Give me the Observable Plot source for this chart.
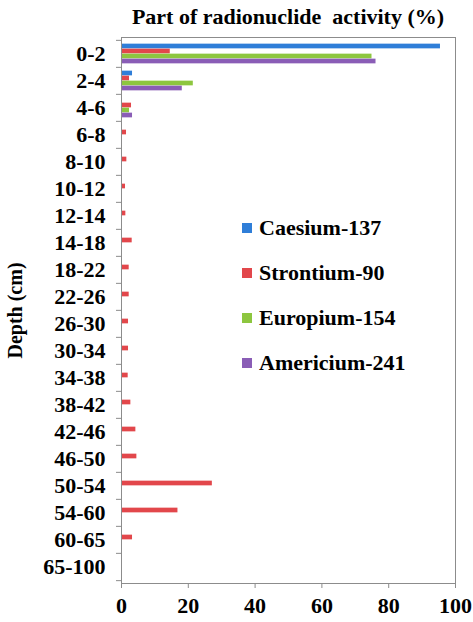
<!DOCTYPE html>
<html>
<head>
<meta charset="utf-8">
<script src="https://cdn.jsdelivr.net/npm/d3@7"></script>
<script src="https://cdn.jsdelivr.net/npm/@observablehq/plot@0.6"></script>
<style>
  body { margin: 0; background: #fff; }
  #wrap { position: relative; width: 473px; height: 622px; overflow: hidden; font-family: "Liberation Serif", "DejaVu Serif", serif; }
  #title { height: 30px; line-height: 34px; padding-left: 121px; width: 334px; text-align: center;
           font-family: "Liberation Serif", "DejaVu Serif", serif;
           font-weight: bold; font-size: 22px; white-space: pre; color: #000; }
  #legend { position: absolute; left: 242px; top: 215px; }
  .item { display: flex; align-items: center; height: 26px; margin-bottom: 19px;
          font-family: "Liberation Serif", "DejaVu Serif", serif; font-weight: bold; font-size: 22px; color: #000; }
  .sw { width: 10px; height: 10px; margin-right: 7px; }
  svg text { font-family: "Liberation Serif", "DejaVu Serif", serif; font-weight: bold; fill: #000; }
</style>
</head>
<body>
<div id="wrap">
  <div id="title">Part of radionuclide  activity (%)</div>
  <div id="chart"></div>
  <div id="legend"></div>
</div>
<script>
const depths = ["0-2","2-4","4-6","6-8","8-10","10-12","12-14","14-18","18-22","22-26","26-30","30-34","34-38","38-42","42-46","46-50","50-54","54-60","60-65","65-100"];
const isotopes = ["Caesium-137","Strontium-90","Europium-154","Americium-241"];
const caesium   = [95.5, 3.3, 0.3, 0, 0, 0, 0, 0, 0, 0, 0, 0, 0, 0, 0, 0, 0, 0, 0, 0];
const strontium = [14.6, 2.4, 3.0, 1.5, 1.6, 1.2, 1.3, 3.2, 2.3, 2.3, 2.1, 2.1, 2.0, 2.8, 4.3, 4.6, 27.2, 16.9, 3.3, 0];
const europium  = [75.0, 21.5, 2.4, 0, 0, 0, 0, 0, 0, 0, 0, 0, 0, 0, 0, 0, 0, 0, 0, 0];
const americium = [76.2, 18.2, 3.3, 0.3, 0.2, 0, 0.2, 0, 0, 0, 0, 0, 0, 0, 0, 0, 0, 0, 0, 0];
const xTicks = [0, 20, 40, 60, 80, 100];
const colors = ["#2f7ed8", "#e2474b", "#8dc63f", "#8a5db6"];

const series = [caesium, strontium, europium, americium];
const rows = [];
series.forEach((vals, k) => vals.forEach((v, i) => rows.push({depth: depths[i], iso: isotopes[k], value: v})));

const H = 592, mt = 7, mb = 39, ml = 121, mr = 18;
const bw = (H - mt - mb) / depths.length;
const barH = 5;
const pad = (bw - isotopes.length * barH) / 2;
const gray = "#8c8c8c";

const chart = Plot.plot({
  width: 473,
  height: H,
  marginTop: mt,
  marginBottom: mb,
  marginLeft: ml,
  marginRight: mr,
  style: {fontFamily: '"Liberation Serif", serif', fontSize: "22px", background: "#fff"},
  x: {domain: [0, 100], ticks: xTicks, tickSize: 5, tickPadding: 9, label: null},
  y: {domain: depths, padding: 0, tickSize: 0, tickPadding: 16, label: "Depth (cm)", labelAnchor: "center", labelOffset: 114},
  marks: [
    ...isotopes.map((iso, k) => Plot.barX(rows.filter(r => r.iso === iso), {
      x: "value", y: "depth", fill: colors[k],
      insetTop: pad + k * barH, insetBottom: bw - pad - (k + 1) * barH
    })),
    Plot.ruleY(depths, {y: d => d, x1: -1.5, x2: 0, dy: -bw / 2, stroke: gray}),
    Plot.ruleY(depths.slice(-1), {y: d => d, x1: -1.5, x2: 0, dy: bw / 2, stroke: gray}),
    Plot.frame({stroke: gray})
  ]
});
document.getElementById("chart").appendChild(chart);
chart.querySelectorAll('g[aria-label="x-axis tick"], g[aria-label="y-axis tick"]').forEach(g => g.setAttribute("stroke", gray));
const lab = chart.querySelector('g[aria-label="y-axis label"]');
if (lab) lab.style.fontSize = "20px";

const legend = document.getElementById("legend");
isotopes.forEach((iso, k) => {
  const it = document.createElement("div");
  it.className = "item";
  it.innerHTML = `<span class="sw" style="background:${colors[k]}"></span><span>${iso}</span>`;
  legend.appendChild(it);
});
</script>
</body>
</html>
